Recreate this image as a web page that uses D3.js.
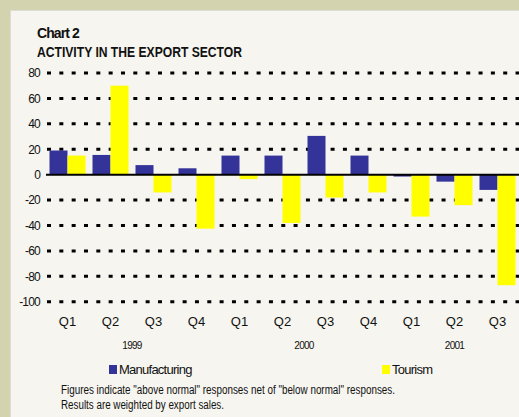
<!DOCTYPE html>
<html>
<head>
<meta charset="utf-8">
<script src="https://cdnjs.cloudflare.com/ajax/libs/d3/7.8.5/d3.min.js"></script>
<style>
  html, body { margin: 0; padding: 0; background: #d4d3b0; }
  svg { display: block; }
  text { font-family: "Liberation Sans", Arial, sans-serif; fill: #111; }
</style>
</head>
<body>
<div id="chart"></div>
<script>
  // data
  var quarters = ['Q1', 'Q2', 'Q3', 'Q4', 'Q1', 'Q2', 'Q3', 'Q4', 'Q1', 'Q2', 'Q3']
  var years = ['1999', '1999', '1999', '1999', '2000', '2000', '2000', '2000', '2001', '2001', '2001']
  var manufacturing = [19, 15.5, 7.5, 5, 15, 15, 30.5, 15, -1.5, -5.5, -12]
  var tourism = [15, 70, -14, -42.5, -3.5, -38, -18, -14, -33, -24, -87]
  var seriesNames = ['Manufacturing', 'Tourism']
  var yTicks = [80, 60, 40, 20, 0, -20, -40, -60, -80, -100]

  var colors = { Manufacturing: '#333399', Tourism: '#ffff00' }

  var width = 519, height = 417

  var svg = d3.select('#chart').append('svg')
    .attr('width', width)
    .attr('height', height)

  // panel
  svg.append('rect').attr('x', 10).attr('y', 10).attr('width', width - 10).attr('height', height - 10)
    .attr('fill', '#dcdcd6')
  svg.append('rect').attr('x', 11).attr('y', 11).attr('width', width - 11).attr('height', height - 11)
    .attr('fill', '#f6f5ef')

  svg.append('text').attr('x', 37).attr('y', 38)
    .attr('font-size', 14).attr('font-weight', 'bold').attr('letter-spacing', -0.9)
    .text('Chart 2')
  svg.append('text').attr('x', 37).attr('y', 57)
    .attr('font-size', 14).attr('font-weight', 'bold')
    .attr('textLength', 205).attr('lengthAdjust', 'spacingAndGlyphs')
    .text('ACTIVITY IN THE EXPORT SECTOR')

  var data = quarters.map((q, i) => ({
    key: i,
    values: [
      { name: 'Manufacturing', value: manufacturing[i] },
      { name: 'Tourism', value: tourism[i] }
    ]
  }))

  var x = d3.scaleBand()
    .domain(d3.range(quarters.length))
    .range([46, 519])
    .paddingInner(7 / 43)
    .paddingOuter(3.5 / 43)

  var x1 = d3.scaleBand()
    .domain(seriesNames)
    .range([0, x.bandwidth()])

  var y = d3.scaleLinear()
    .domain([-100, 80])
    .range([301.7, 73])

  // dotted gridlines
  svg.append('g')
    .selectAll('line')
    .data(yTicks.filter(d => d !== 0))
    .enter()
    .append('line')
    .attr('x1', 47).attr('x2', width)
    .attr('y1', d => y(d)).attr('y2', d => y(d))
    .attr('stroke', '#000')
    .attr('stroke-width', 3)
    .attr('stroke-dasharray', '4,8.33')

  // tick labels
  svg.append('g')
    .selectAll('text')
    .data(yTicks)
    .enter()
    .append('text')
    .attr('x', 40)
    .attr('y', d => y(d))
    .attr('dy', '0.36em')
    .attr('text-anchor', 'end')
    .attr('font-size', 12)
    .attr('letter-spacing', -0.8)
    .text(d => d)

  // bars
  svg.append('g')
    .selectAll('g')
    .data(data)
    .enter()
    .append('g')
    .attr('transform', d => 'translate(' + x(d.key) + ',0)')
    .selectAll('rect')
    .data(d => d.values)
    .enter()
    .append('rect')
    .attr('x', d => x1(d.name))
    .attr('width', x1.bandwidth())
    .attr('y', d => y(Math.max(0, d.value)))
    .attr('height', d => Math.abs(y(d.value) - y(0)))
    .attr('fill', d => colors[d.name])

  // zero line
  svg.append('line')
    .attr('x1', 46).attr('x2', width)
    .attr('y1', y(0)).attr('y2', y(0))
    .attr('stroke', '#000').attr('stroke-width', 2)

  // quarter labels
  svg.append('g')
    .selectAll('text')
    .data(quarters)
    .enter()
    .append('text')
    .attr('x', (d, i) => x(i) + x.bandwidth() / 2)
    .attr('y', 325.5)
    .attr('text-anchor', 'middle')
    .attr('font-size', 13)
    .attr('fill', '#222')
    .text(d => d)

  // year labels, centred on their quarters
  var yearGroups = d3.groups(d3.range(years.length), i => years[i])
  svg.append('g')
    .selectAll('text')
    .data(yearGroups)
    .enter()
    .append('text')
    .attr('x', d => (x(d[1][0]) + x(d[1][d[1].length - 1]) + x.bandwidth()) / 2)
    .attr('y', 349)
    .attr('text-anchor', 'middle')
    .attr('font-size', 10)
    .attr('letter-spacing', -0.7)
    .text(d => d[0])

  // legend
  var legendX = { Manufacturing: 109, Tourism: 382 }
  var legend = svg.append('g')
    .selectAll('g')
    .data(seriesNames)
    .enter()
    .append('g')
    .attr('transform', d => 'translate(' + legendX[d] + ',365)')
  legend.append('rect')
    .attr('width', 8).attr('height', 9)
    .attr('fill', d => colors[d])
  legend.append('text')
    .attr('x', 10).attr('y', 9)
    .attr('font-size', 13)
    .attr('letter-spacing', -0.75)
    .text(d => d)

  svg.append('text').attr('x', 61).attr('y', 394)
    .attr('font-size', 12)
    .attr('textLength', 334).attr('lengthAdjust', 'spacingAndGlyphs')
    .text('Figures indicate "above normal" responses net of "below normal" responses.')
  svg.append('text').attr('x', 61).attr('y', 409)
    .attr('font-size', 12)
    .attr('textLength', 163).attr('lengthAdjust', 'spacingAndGlyphs')
    .text('Results are weighted by export sales.')
</script>
</body>
</html>
